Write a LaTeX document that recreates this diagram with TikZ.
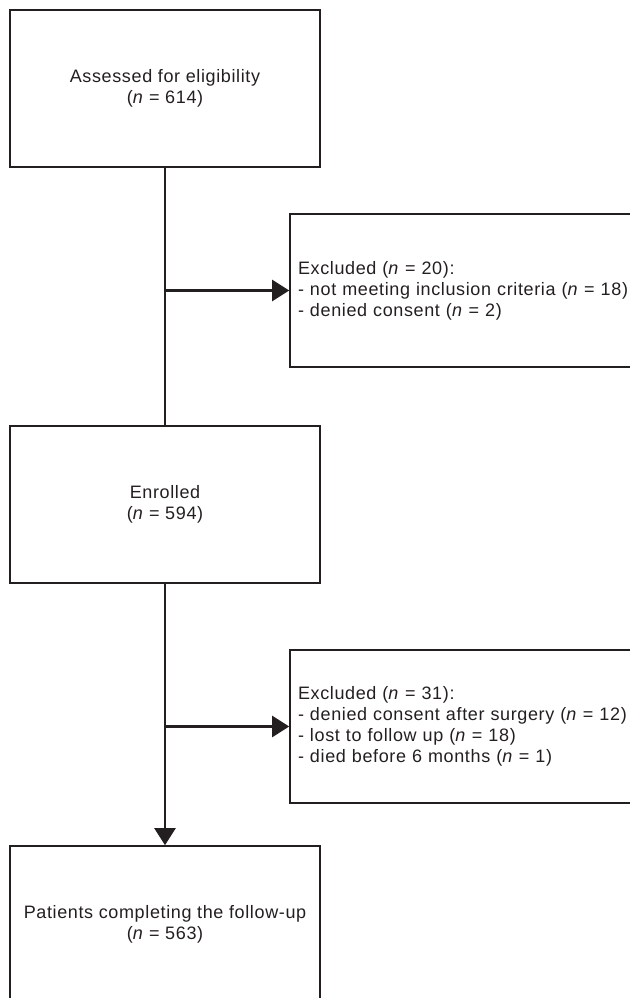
\documentclass[tikz,border=0pt]{standalone}
\usepackage{fontspec}
\setmainfont{Liberation Sans}[LetterSpace=3.5]
\usetikzlibrary{arrows.meta}
\definecolor{ink}{HTML}{231F20}

\begin{document}
\begin{tikzpicture}[x=1pt,y=1pt,
  box/.style={draw=ink,line width=1.6pt,minimum width=310pt,minimum height=157pt,
    align=center,text=ink,font=\fontsize{18}{21}\selectfont},
  exbox/.style={draw=ink,line width=1.6pt,minimum height=153pt,inner xsep=8pt,
    text width=340pt,align=left,text=ink,font=\fontsize{18}{21}\selectfont},
  link/.style={draw=ink,line width=2.3pt},
  arrow/.style={link,-{Triangle[length=17pt,width=21pt]}}]
\useasboundingbox (0,0) rectangle (629,-998);
\node [box] (assessed) at (165,-88.5) {Assessed for eligibility\\(\textit{n} = 614)};
\node [exbox] (excl1) at (468,-290.5) {Excluded (\textit{n} = 20):\\
  - not meeting inclusion criteria (\textit{n} = 18)\\
  - denied consent (\textit{n} = 2)};
\node [box] (enrolled) at (165,-504.5) {Enrolled\\(\textit{n} = 594)};
\node [exbox] (excl2) at (468,-726.5) {Excluded (\textit{n} = 31):\\
  - denied consent after surgery (\textit{n} = 12)\\
  - lost to follow up (\textit{n} = 18)\\
  - died before 6 months (\textit{n} = 1)};
\node [box] (completed) at (165,-924.5) {Patients completing the follow-up\\(\textit{n} = 563)};
% flow
\draw [link] (assessed.south) -- (enrolled.north);
\draw [arrow] (assessed.south |- excl1.west) -- (excl1.west);
\draw [arrow] (enrolled.south) -- (completed.north);
\draw [arrow] (enrolled.south |- excl2.west) -- (excl2.west);
\end{tikzpicture}
\end{document}
